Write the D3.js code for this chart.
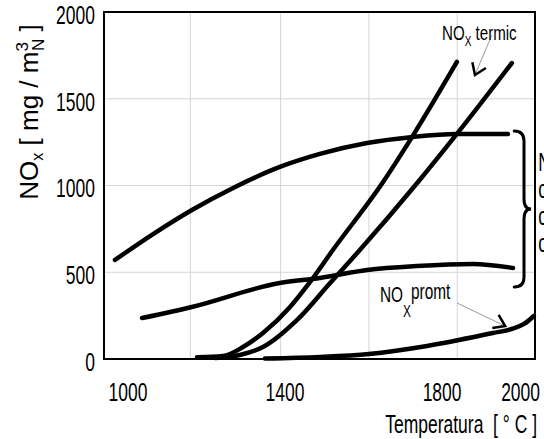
<!DOCTYPE html>
<html>
<head>
<meta charset="utf-8">
<script src="https://cdn.jsdelivr.net/npm/d3@7"></script>
<style>
  body { margin: 0; background: #fff; }
  svg { display: block; font-family: "Liberation Sans", Arial, sans-serif; }
</style>
</head>
<body>
<svg id="chart" width="544" height="439"></svg>
<script>
const width = 544;
const height = 439;

// axis ticks
const tempTicks = [1000, 1400, 1800, 2000];
const noxTicks = [0, 500, 1000, 1500, 2000];
const gridTemp = [1160, 1390, 1615, 1840];
const gridNox = [500, 1000, 1500];

// curves, [temperature, NOx]
const fuelHigh = [[968, 571], [1065, 720], [1164, 859], [1269, 986], [1388, 1107], [1490, 1182], [1610, 1245], [1727, 1280], [1839, 1297], [1969, 1297]];
const fuelLow = [[1037, 236], [1164, 300], [1388, 438], [1490, 467], [1610, 513], [1737, 536], [1880, 548], [1982, 525]];
const thermalA = [[1177, 10], [1243, 17], [1294, 69], [1345, 150], [1414, 300], [1465, 444], [1523, 628], [1651, 1020], [1725, 1280], [1839, 1712]];
const thermalB = [[1223, 6], [1286, 23], [1345, 69], [1432, 225], [1516, 438], [1585, 611], [1740, 1020], [1839, 1297], [1979, 1706]];
const prompt = [[1350, 3], [1490, 12], [1615, 29], [1763, 75], [1931, 150], [1979, 173], [2010, 202], [2035, 248]];

const sideLines = ["NOx", "combustibil", "cu", "conținut"];

const svg = d3.select("#chart");

const x = d3.scaleLinear().domain([940, 2038]).range([104, 535]);
const y = d3.scaleLinear().domain([0, 2000]).range([359, 12]);

// grid
svg.append("g").selectAll("line")
  .data(gridTemp).enter().append("line")
    .attr("x1", d => x(d)).attr("x2", d => x(d))
    .attr("y1", y(0)).attr("y2", y(2000))
    .attr("stroke", "#d4d4d4").attr("stroke-width", 1);

svg.append("g").selectAll("line")
  .data(gridNox).enter().append("line")
    .attr("x1", x.range()[0]).attr("x2", x.range()[1])
    .attr("y1", d => y(d)).attr("y2", d => y(d))
    .attr("stroke", "#d4d4d4").attr("stroke-width", 1);

// frame
svg.append("rect")
  .attr("x", x.range()[0]).attr("y", y(2000))
  .attr("width", x.range()[1] - x.range()[0])
  .attr("height", y(0) - y(2000))
  .attr("fill", "none").attr("stroke", "#000").attr("stroke-width", 2);

// axes
const xAxis = svg.append("g")
    .attr("transform", "translate(0," + y(0) + ")")
  .call(d3.axisBottom(x).tickValues(tempTicks).tickSize(0).tickFormat(d3.format("d")));
xAxis.select(".domain").remove();
xAxis.selectAll("text")
  .attr("y", 0).attr("dy", 0)
  .attr("transform", "translate(0,42) scale(0.7,1)")
  .attr("font-size", 25).attr("font-family", null).attr("fill", "#000");

const yAxis = svg.append("g")
    .attr("transform", "translate(" + x.range()[0] + ",0)")
  .call(d3.axisLeft(y).tickValues(noxTicks).tickSize(0).tickFormat(d3.format("d")));
yAxis.select(".domain").remove();
yAxis.selectAll("text")
  .attr("x", 0).attr("dy", "0.45em")
  .attr("transform", "translate(-9,0) scale(0.7,1)")
  .attr("font-size", 25).attr("font-family", null).attr("fill", "#000");

// curves
const line = d3.line()
  .x(d => x(d[0]))
  .y(d => y(d[1]))
  .curve(d3.curveMonotoneX);

[fuelHigh, fuelLow, thermalA, thermalB, prompt].forEach(function(s) {
  svg.append("path")
    .attr("d", line(s))
    .attr("fill", "none")
    .attr("stroke", "#000")
    .attr("stroke-width", 4.5)
    .attr("stroke-linecap", "round")
    .attr("stroke-linejoin", "round");
});

// bracket around the fuel NOx curves
const bx0 = x(1985), bx1 = x(2010), bx2 = x(2028);
const by0 = y(1314), by1 = y(415), bym = (by0 + by1) / 2;
svg.append("path")
  .attr("d", `M${bx0},${by0} Q${bx1},${by0} ${bx1},${by0 + 10} L${bx1},${bym - 10} Q${bx1},${bym} ${bx2},${bym}`
           + ` Q${bx1},${bym} ${bx1},${bym + 10} L${bx1},${by1 - 10} Q${bx1},${by1} ${bx0},${by1}`)
  .attr("fill", "none").attr("stroke", "#000").attr("stroke-width", 3)
  .attr("stroke-linecap", "round");

// pointer arrows
const arrow = function(tail, tip) {
  const tx = x(tail[0]), ty = y(tail[1]);
  const px = x(tip[0]), py = y(tip[1]);
  svg.append("line")
    .attr("x1", tx).attr("y1", ty).attr("x2", px).attr("y2", py)
    .attr("stroke", "#9a9a9a").attr("stroke-width", 1);
  const a = Math.atan2(ty - py, tx - px);
  const len = 13, spread = 0.6;
  svg.append("path")
    .attr("d", `M${px + len * Math.cos(a - spread)},${py + len * Math.sin(a - spread)} L${px},${py} L${px + len * Math.cos(a + spread)},${py + len * Math.sin(a + spread)}`)
    .attr("fill", "none").attr("stroke", "#000").attr("stroke-width", 2.5)
    .attr("stroke-linejoin", "miter");
};
arrow([1928, 1867], [1885, 1637]);
arrow([1839, 323], [1962, 190]);

// labels
const termic = svg.append("text")
  .attr("transform", `translate(${x(1801)},${y(1839)}) scale(0.72,1)`)
  .attr("font-size", 21);
termic.append("tspan").text("NO");
termic.append("tspan").attr("font-size", 14).attr("dy", 6).text("X");
termic.append("tspan").attr("dy", -6).text(" termic");

const promt = svg.append("text")
  .attr("transform", `translate(${x(1643)},${y(329)}) scale(0.7,1)`)
  .attr("font-size", 22);
promt.append("tspan").text("NO");
promt.append("tspan").attr("font-size", 17).attr("dy", 15).text("X");
promt.append("tspan").attr("dy", -18).text("promt");

svg.append("g").selectAll("text")
  .data(sideLines).enter().append("text")
    .attr("transform", (d, i) => `translate(${x(2046)},${y(1084 - i * 156)}) scale(0.7,1)`)
    .attr("font-size", 25)
    .text(d => d);

// axis titles
svg.append("text")
  .attr("transform", "translate(537,433) scale(0.7,1)")
  .attr("text-anchor", "end")
  .attr("font-size", 25)
  .style("white-space", "pre")
  .text("Temperatura  [ ° C ]");

const yt = svg.append("text")
  .attr("transform", "translate(38,112) rotate(-90)")
  .attr("text-anchor", "middle")
  .attr("font-size", 26);
yt.append("tspan").text("NO");
yt.append("tspan").attr("font-size", 16).attr("dy", 5).text("x");
yt.append("tspan").attr("dy", -5).text(" [ mg / m");
yt.append("tspan").attr("font-size", 17).attr("dy", -10).text("3");
yt.append("tspan").attr("font-size", 17).attr("dx", -9).attr("dy", 16).text("N");
yt.append("tspan").attr("dy", -6).text(" ]");
</script>
</body>
</html>
